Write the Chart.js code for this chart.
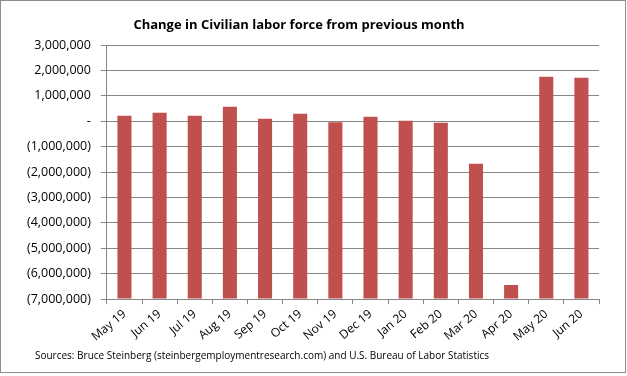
<!DOCTYPE html>
<html>
<head>
<meta charset="utf-8">
<script src="https://cdn.jsdelivr.net/npm/chart.js@4"></script>
<style>
  body { margin: 0; background: #fff; }
  #wrap { position: absolute; left: 0; top: 0; width: 624px; height: 371px; border: 1px solid #8c8c8c; }
  canvas { position: absolute; left: -1px; top: -1px; }
</style>
</head>
<body>
<div id="wrap"><canvas id="laborChart" width="627" height="376"></canvas></div>
<script>
// Monthly change in civilian labor force
var months = ['May 19', 'Jun 19', 'Jul 19', 'Aug 19', 'Sep 19', 'Oct 19', 'Nov 19',
              'Dec 19', 'Jan 20', 'Feb 20', 'Mar 20', 'Apr 20', 'May 20', 'Jun 20'];
var changes = [220000, 335000, 220000, 570000, 100000, 290000, -40000,
               180000, 20000, -60000, -1670000, -6450000, 1750000, 1710000];
var yMin = -7000000;
var yMax = 3000000;

var titleText = 'Change in Civilian labor force from previous month';
var sourceText = 'Sources: Bruce Steinberg (steinbergemploymentresearch.com) and U.S. Bureau of Labor Statistics';

function fmt(v) {
    if (v === 0) return '-';
    var s = Math.abs(v).toLocaleString('en-US');
    return v < 0 ? '(' + s + ')' : s;
}

document.addEventListener("DOMContentLoaded", function () {
    var ctx = document.getElementById('laborChart').getContext('2d');
    var font = "'Open Sans', sans-serif";

    // title and source line are placed like in the Excel original (not centred on the canvas)
    var textPlugin = {
        id: 'excelText',
        afterDraw: function (chart) {
            var c = chart.ctx;
            c.save();
            c.fillStyle = '#000';
            c.textAlign = 'center';
            c.textBaseline = 'middle';
            c.font = 'bold 13px ' + font;
            c.fillText(titleText, 299, 25);
            c.font = '10px ' + font;
            c.fillText(sourceText, 262, 356);
            c.restore();
        }
    };

    new Chart(ctx, {
        type: 'bar',
        data: {
            labels: months,
            datasets: [{
                data: changes,
                base: yMin, // bars rise from the bottom of the axis, like Excel
                backgroundColor: '#C0504D',
                borderWidth: 0,
                barPercentage: 0.4,
                categoryPercentage: 1.0
            }]
        },
        options: {
            responsive: false,
            animation: false,
            layout: { padding: { left: 17, right: 28, top: 45, bottom: 29 } },
            plugins: {
                legend: { display: false },
                tooltip: { enabled: false }
            },
            scales: {
                x: {
                    grid: {
                        drawOnChartArea: false,
                        drawTicks: true,
                        tickLength: 5,
                        color: '#868686',
                        offset: true
                    },
                    border: { color: '#868686', width: 1 },
                    ticks: {
                        color: '#000',
                        font: { family: font, size: 12 },
                        minRotation: 40,
                        maxRotation: 40,
                        autoSkip: false
                    }
                },
                y: {
                    min: yMin,
                    max: yMax,
                    grid: {
                        color: '#868686',
                        tickLength: 6
                    },
                    border: { color: '#868686', width: 1 },
                    ticks: {
                        stepSize: 1000000,
                        color: '#000',
                        font: { family: font, size: 12.5 },
                        padding: 10,
                        callback: function (v) { return fmt(v); }
                    }
                }
            }
        },
        plugins: [textPlugin]
    });
});
</script>
</body>
</html>
